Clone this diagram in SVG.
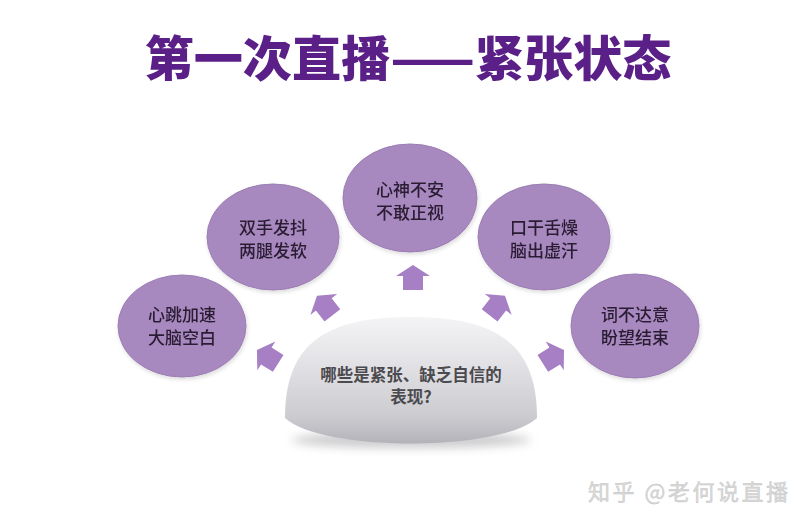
<svg xmlns="http://www.w3.org/2000/svg" width="805" height="521" viewBox="0 0 805 521">
<defs>
<style>
.node{fill:#a789bf;stroke:#9b7db3;stroke-width:1}
.nt{font-family:"Noto Sans CJK SC","Liberation Sans",sans-serif;font-size:17px;fill:#2a1c33;text-anchor:middle;font-weight:500}
.arrow{fill:#a77fc4}
.title{font-family:"Noto Sans CJK SC","Liberation Sans",sans-serif;font-size:48px;font-weight:900;fill:#5b2088;text-anchor:middle}
.dt{font-family:"Noto Sans CJK SC","Liberation Sans",sans-serif;font-size:16.5px;font-weight:700;fill:#4b4a4e;text-anchor:middle}
.wm{font-family:"Noto Sans CJK SC","Liberation Sans",sans-serif;font-size:22px;fill:#dadada;stroke:#c4c4c4;stroke-width:0.4}
</style>
<linearGradient id="dome" x1="0" y1="0" x2="0" y2="1">
<stop offset="0" stop-color="#f4f3f5"/>
<stop offset="0.45" stop-color="#dedde1"/>
<stop offset="0.8" stop-color="#cbcacf"/>
<stop offset="1" stop-color="#b3b2b8"/>
</linearGradient>
<filter id="blur" x="-20%" y="-50%" width="140%" height="200%"><feGaussianBlur stdDeviation="5"/></filter>
<filter id="sh" x="-20%" y="-20%" width="140%" height="140%"><feGaussianBlur in="SourceAlpha" stdDeviation="2"/><feOffset dx="1" dy="2"/><feComponentTransfer><feFuncA type="linear" slope="0.15"/></feComponentTransfer><feMerge><feMergeNode/><feMergeNode in="SourceGraphic"/></feMerge></filter>
<path id="arr" d="M0,-13 L17,-2 L10,-2 L10,12 L-10,12 L-10,-2 L-17,-2 Z"/>
</defs>
<rect width="805" height="521" fill="#ffffff"/>

<text class="title" x="408" y="76" textLength="527" lengthAdjust="spacingAndGlyphs">第一次直播——紧张状态</text>

<g id="connectors">
<use href="#arr" class="arrow" transform="translate(413,278)"/>
<use href="#arr" class="arrow" transform="translate(325,306) rotate(-38)"/>
<use href="#arr" class="arrow" transform="translate(497,306) rotate(38)"/>
<use href="#arr" class="arrow" transform="translate(268,357) rotate(-58)"/>
<use href="#arr" class="arrow" transform="translate(553,357) rotate(58)"/>
</g>

<g id="node-left" filter="url(#sh)">
<ellipse class="node" cx="182" cy="326" rx="64" ry="51"/>
<text class="nt" x="182" y="321">心跳加速</text>
<text class="nt" x="182" y="344">大脑空白</text>
</g>
<g id="node-upper-left" filter="url(#sh)">
<ellipse class="node" cx="273" cy="237" rx="66" ry="53"/>
<text class="nt" x="273" y="234">双手发抖</text>
<text class="nt" x="273" y="257">两腿发软</text>
</g>
<g id="node-top" filter="url(#sh)">
<ellipse class="node" cx="410" cy="198" rx="67" ry="54"/>
<text class="nt" x="410" y="196">心神不安</text>
<text class="nt" x="410" y="219">不敢正视</text>
</g>
<g id="node-upper-right" filter="url(#sh)">
<ellipse class="node" cx="544" cy="237" rx="66" ry="53"/>
<text class="nt" x="544" y="234">口干舌燥</text>
<text class="nt" x="544" y="257">脑出虚汗</text>
</g>
<g id="node-right" filter="url(#sh)">
<ellipse class="node" cx="635" cy="326" rx="64" ry="52"/>
<text class="nt" x="635" y="321">词不达意</text>
<text class="nt" x="635" y="344">盼望结束</text>
</g>

<g id="node-center">
<ellipse cx="411" cy="440" rx="120" ry="8" fill="#9a9a9e" opacity="0.5" filter="url(#blur)"/>
<path d="M285,418 C285,348 320,317 411,317 C502,317 537,348 537,418 C500,452 322,452 285,418 Z" fill="url(#dome)"/>
<text class="dt" x="411" y="381">哪些是紧张、缺乏自信的</text>
<text class="dt" x="411" y="403">表现?</text>
</g>

<text class="wm" x="588" y="500" textLength="200" lengthAdjust="spacing">知乎  @老何说直播</text>
</svg>
